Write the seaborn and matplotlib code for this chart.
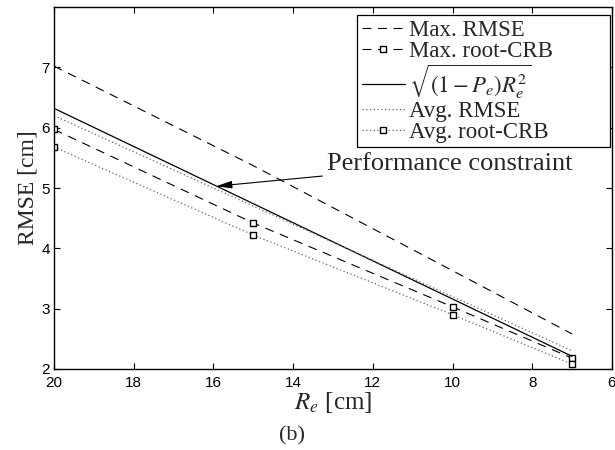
import numpy as np
import pandas as pd
import matplotlib
matplotlib.use("Agg")
import matplotlib.pyplot as plt
import seaborn as sns

# Data
Re = [20, 15, 10, 7]
max_rmse = [7.02, 5.37, 3.63, 2.58]
max_crb = [5.97, 4.42, 3.03, 2.18]
bound = [6.32, 4.74, 3.16, 2.21]
avg_rmse = [6.20, 4.70, 3.20, 2.30]
avg_crb = [5.68, 4.22, 2.90, 2.08]
labels = ["Max. RMSE", "Max. root-CRB", r"$\sqrt{(1-P_e)R_e^2}$", "Avg. RMSE", "Avg. root-CRB"]
x_ticks = [20, 18, 16, 14, 12, 10, 8, 6]
y_ticks = [2, 3, 4, 5, 6, 7]

sns.set_theme(style="white")
plt.rcParams['font.family'] = ['Liberation Serif', 'DejaVu Serif']
plt.rcParams['mathtext.fontset'] = 'stix'

fig = plt.figure(figsize=(6.15, 4.5), dpi=100)
ax = fig.add_axes([54/615, 1-369/450, (612-54)/615, (369-7)/450])

series = [max_rmse, max_crb, bound, avg_rmse, avg_crb]
styles = [
    dict(linestyle=(0, (8, 6)), marker=None, lw=0.8, color='black'),
    dict(linestyle=(0, (8, 6)), marker='s', lw=0.8, color='black'),
    dict(linestyle='-', marker=None, lw=0.9, color='black'),
    dict(linestyle=(0, (1, 2)), marker=None, lw=0.9, color='#666666'),
    dict(linestyle=(0, (1, 2)), marker='s', lw=0.9, color='#666666'),
]
for vals, lab, st in zip(series, labels, styles):
    df = pd.DataFrame({"Re": Re, "RMSE": vals})
    kw = dict(linestyle=st['linestyle'], lw=st['lw'], color=st['color'], label=lab)
    if st['marker']:
        kw.update(marker='s', markersize=5, markerfacecolor='white',
                  markeredgecolor='black', markeredgewidth=1.0)
    sns.lineplot(data=df, x="Re", y="RMSE", ax=ax, sort=False, **kw)

ax.set_xlim(20, 6)
ax.set_ylim(2, 8)
ax.set_xticks(x_ticks)
ax.set_yticks(y_ticks)
for lbl in ax.get_xticklabels() + ax.get_yticklabels():
    lbl.set_family(['Liberation Sans', 'DejaVu Sans'])
    lbl.set_fontsize(11)
ax.tick_params(direction='in', length=4, width=0.8, top=True, right=True,
               bottom=True, left=True, pad=3, colors='black')
ax.tick_params(axis='x', pad=5)
for s in ax.spines.values():
    s.set_color('black')
    s.set_linewidth(1.0)

ax.set_xlabel(r"$R_e$ [cm]", fontsize=18, labelpad=0)
ax.set_ylabel("RMSE [cm]", fontsize=17, labelpad=2)

leg = ax.legend(loc='upper left', bbox_to_anchor=(0.543, 0.978, 0.453, 0.0),
                mode='expand', borderaxespad=0,
                fontsize=16.5, frameon=True, fancybox=False,
                framealpha=1, edgecolor='black', handlelength=1.88,
                borderpad=0.2, labelspacing=0.0, handletextpad=0.17)
leg.get_frame().set_linewidth(0.9)

ax.annotate("Performance constraint", xy=(15.93, 5.03), xytext=(13.15, 5.40),
            fontsize=19, va='center', ha='left',
            arrowprops=dict(arrowstyle='-|>,head_length=0.5,head_width=0.12',
                            color='black', lw=0.8, shrinkA=1, shrinkB=0))

fig.text(292/615, 1-436/450, "(b)", fontsize=16, ha='center', va='center')

fig.savefig("out.png", dpi=100)
